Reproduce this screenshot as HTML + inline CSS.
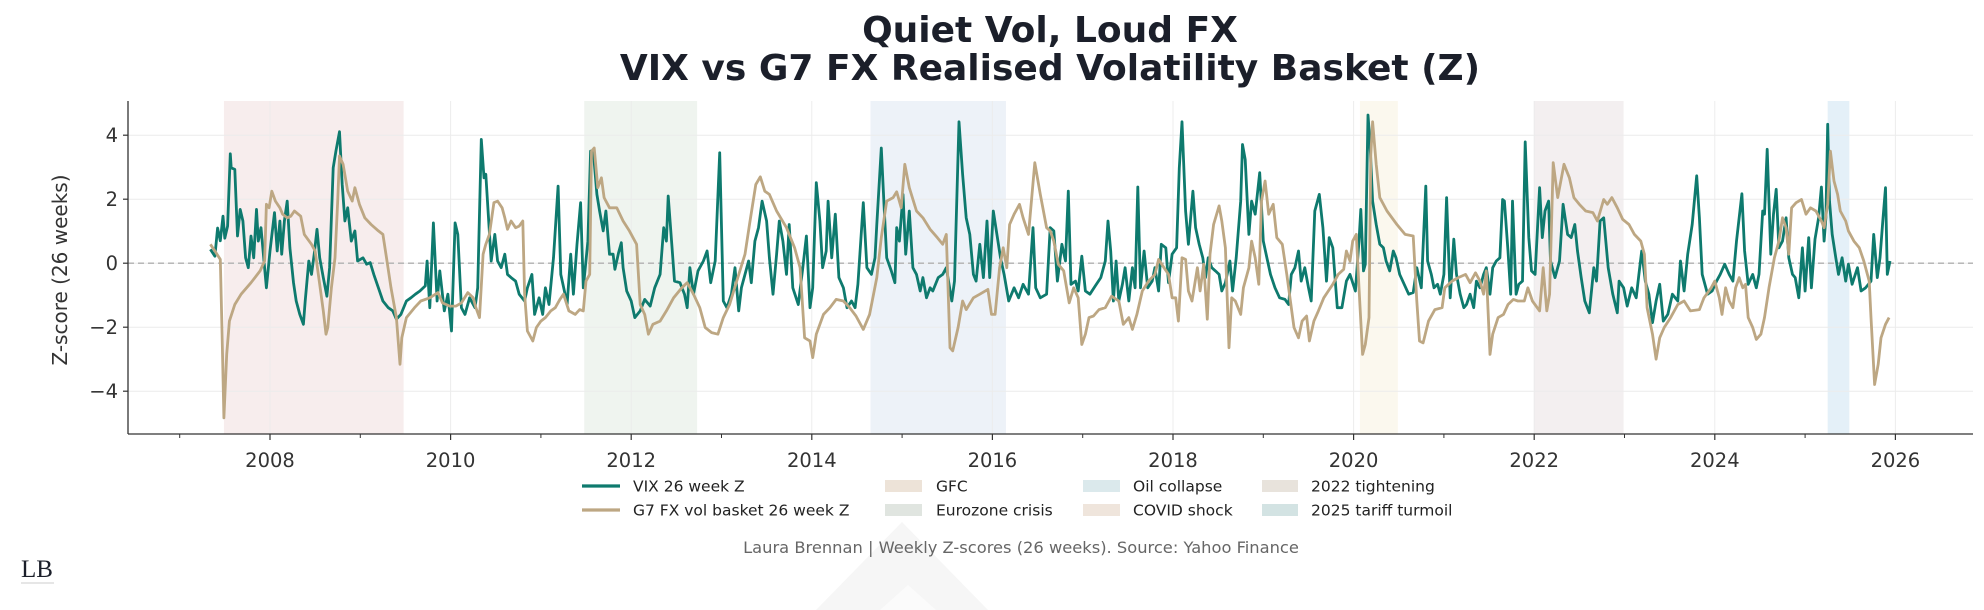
<!DOCTYPE html>
<html>
<head>
<meta charset="utf-8">
<style>
html,body{margin:0;padding:0;background:#fff;}
svg{display:block;font-family:"DejaVu Sans","Liberation Sans",sans-serif;}
</style>
</head>
<body>
<svg id="chart" width="1984" height="610" viewBox="0 0 1984 610" xmlns="http://www.w3.org/2000/svg">
  <rect width="1984" height="610" fill="#ffffff"/>
  <g>
    <polygon points="816,610 902,522 988,610" fill="#f6f6f6"/>
    <polygon points="880,610 908,585 936,610" fill="#fbfbfb"/>
  </g>
  <text x="1050" y="42" text-anchor="middle" font-size="36" font-weight="bold" fill="#1b1f2a">Quiet Vol, Loud FX</text>
  <text x="1050" y="80" text-anchor="middle" font-size="36" font-weight="bold" fill="#1b1f2a">VIX vs G7 FX Realised Volatility Basket (Z)</text>
  <g id="shades"></g>
  <g id="grid"></g>
  <line x1="128" x2="1973" y1="263.2" y2="263.2" stroke="#b0b0b0" stroke-width="1.3" stroke-dasharray="6,4"/>
  <g id="series"></g>
  <g id="axes">
    <line x1="128" x2="128" y1="101" y2="434" stroke="#333" stroke-width="1.3"/>
    <line x1="128" x2="1973" y1="434" y2="434" stroke="#333" stroke-width="1.3"/>
  </g>
  <text transform="translate(67,270) rotate(-90)" text-anchor="middle" font-size="20" fill="#333">Z-score (26 weeks)</text>
  <g id="legend" font-size="15.5" fill="#222">
    <g>
      <line x1="582" x2="620" y1="486" y2="486" stroke="#0e7a6e" stroke-width="3.2"/>
      <text x="633" y="491.5">VIX 26 week Z</text>
    </g>
    <g>
      <line x1="582" x2="620" y1="510" y2="510" stroke="#bda783" stroke-width="3.2"/>
      <text x="633" y="515.5">G7 FX vol basket 26 week Z</text>
    </g>
    <g>
      <rect x="885" y="480" width="37" height="12" fill="#ede3d8"/>
      <text x="936" y="491.5">GFC</text>
    </g>
    <g>
      <rect x="885" y="504" width="37" height="12" fill="#e0e5e0"/>
      <text x="936" y="515.5">Eurozone crisis</text>
    </g>
    <g>
      <rect x="1083" y="480" width="37" height="12" fill="#dbe9ec"/>
      <text x="1133" y="491.5">Oil collapse</text>
    </g>
    <g>
      <rect x="1083" y="504" width="37" height="12" fill="#efe5dc"/>
      <text x="1133" y="515.5">COVID shock</text>
    </g>
    <g>
      <rect x="1262" y="480" width="36" height="12" fill="#e8e3dc"/>
      <text x="1311" y="491.5">2022 tightening</text>
    </g>
    <g>
      <rect x="1262" y="504" width="36" height="12" fill="#d3e3e3"/>
      <text x="1311" y="515.5">2025 tariff turmoil</text>
    </g>
  </g>
  <text x="1021" y="553" text-anchor="middle" font-size="16.3" fill="#666">Laura Brennan | Weekly Z-scores (26 weeks). Source: Yahoo Finance</text>
  <g>
    <text x="21" y="577" font-family="'Liberation Serif',serif" font-size="25" fill="#1b1f2a">LB</text>
    <line x1="21" x2="54" y1="583" y2="583" stroke="#999" stroke-width="0.6"/>
  </g>
</svg>
<script>
const yTicks = [-4, -2, 0, 2, 4];
const xTickYears = [2008, 2010, 2012, 2014, 2016, 2018, 2020, 2022, 2024, 2026];
const xMinorYears = [2007, 2009, 2011, 2013, 2015, 2017, 2019, 2021, 2023, 2025];
const eventNames = ["GFC", "Eurozone crisis", "Oil collapse", "COVID shock", "2022 tightening", "2025 tariff turmoil"];
const eventStart = [2007.49, 2011.48, 2014.65, 2020.07, 2022.0, 2025.25];
const eventEnd = [2009.48, 2012.73, 2016.15, 2020.49, 2022.99, 2025.49];
const eventColors = ["#f7eded", "#eff4ef", "#edf2f8", "#fbf8ee", "#f3eff0", "#e4f0f8"];

const vixDates = [2007.34,2007.39,2007.42,2007.45,2007.48,2007.50,2007.53,2007.56,2007.57,2007.61,2007.64,2007.67,2007.70,2007.73,2007.76,2007.79,2007.82,2007.85,2007.87,2007.90,2007.93,2007.96,2008.00,2008.05,2008.08,2008.11,2008.13,2008.16,2008.19,2008.22,2008.26,2008.29,2008.33,2008.37,2008.39,2008.43,2008.46,2008.49,2008.52,2008.55,2008.59,2008.63,2008.66,2008.70,2008.73,2008.77,2008.80,2008.83,2008.86,2008.90,2008.94,2008.97,2009.03,2009.07,2009.11,2009.15,2009.20,2009.25,2009.31,2009.36,2009.40,2009.45,2009.51,2009.56,2009.61,2009.66,2009.72,2009.74,2009.77,2009.81,2009.85,2009.88,2009.93,2009.97,2010.01,2010.05,2010.08,2010.12,2010.16,2010.21,2010.27,2010.30,2010.34,2010.37,2010.39,2010.42,2010.45,2010.49,2010.52,2010.56,2010.60,2010.63,2010.67,2010.72,2010.76,2010.82,2010.85,2010.90,2010.93,2010.98,2011.02,2011.05,2011.09,2011.14,2011.19,2011.22,2011.26,2011.29,2011.33,2011.36,2011.40,2011.44,2011.47,2011.52,2011.55,
2011.58,2011.62,2011.65,2011.69,2011.72,2011.76,2011.80,2011.82,2011.86,2011.89,2011.91,2011.95,2012.00,2012.04,2012.10,2012.15,2012.21,2012.26,2012.32,2012.36,2012.39,2012.41,2012.45,2012.48,2012.54,2012.59,2012.62,2012.65,2012.69,2012.74,2012.80,2012.84,2012.88,2012.93,2012.98,2013.02,2013.06,2013.11,2013.15,2013.19,2013.22,2013.26,2013.30,2013.33,2013.37,2013.41,2013.45,2013.50,2013.53,2013.57,2013.61,2013.64,2013.68,2013.72,2013.75,2013.79,2013.85,2013.90,2013.94,2013.98,2014.01,2014.05,2014.09,2014.12,2014.16,2014.18,2014.22,2014.26,2014.30,2014.35,2014.39,2014.44,2014.48,2014.51,2014.57,2014.61,2014.66,2014.70,2014.72,2014.77,2014.80,2014.83,2014.88,2014.92,2014.94,2014.97,2015.01,2015.04,2015.08,2015.12,2015.16,2015.20,2015.23,2015.27,2015.31,2015.34,2015.40,2015.45,2015.49,2015.55,2015.58,2015.63,2015.67,2015.71,2015.75,2015.79,2015.82,2015.86,2015.90,2015.94,2015.97,2016.01,2016.05,2016.09,2016.13,2016.18,2016.24,2016.29,2016.34,2016.40,2016.45,2016.48,2016.53,2016.60,2016.64,
2016.68,2016.72,2016.77,2016.81,2016.84,2016.87,2016.92,2016.95,2016.99,2017.03,2017.08,2017.14,2017.20,2017.25,2017.28,2017.31,2017.34,2017.37,2017.40,2017.44,2017.47,2017.51,2017.55,2017.58,2017.61,2017.64,2017.68,2017.72,2017.77,2017.80,2017.84,2017.87,2017.92,2017.95,2017.99,2018.04,2018.07,2018.10,2018.14,2018.17,2018.22,2018.25,2018.29,2018.33,2018.36,2018.39,2018.43,2018.47,2018.51,2018.54,2018.58,2018.63,2018.66,2018.70,2018.75,2018.77,2018.80,2018.84,2018.87,2018.91,2018.96,2019.00,2019.04,2019.08,2019.13,2019.18,2019.24,2019.28,2019.31,2019.35,2019.39,2019.42,2019.46,2019.50,2019.53,2019.57,2019.62,2019.66,2019.70,2019.73,2019.77,2019.82,2019.87,2019.92,2019.96,2020.02,2020.06,2020.08,2020.11,2020.13,2020.16,2020.18,2020.21,2020.25,2020.29,2020.33,2020.36,2020.40,2020.44,2020.47,2020.51,2020.56,2020.61,2020.66,2020.70,2020.75,2020.80,2020.82,2020.86,2020.89,2020.93,2020.96,2021.00,2021.03,2021.07,2021.11,2021.14,2021.18,2021.22,2021.25,2021.29,2021.33,2021.36,2021.40,2021.44,2021.47,2021.51,2021.54,2021.58,2021.62,2021.65,2021.67,2021.71,2021.74,
2021.76,2021.80,2021.83,2021.87,2021.90,2021.94,2021.97,2022.01,2022.06,2022.09,2022.12,2022.16,2022.18,2022.23,2022.28,2022.32,2022.37,2022.41,2022.45,2022.48,2022.52,2022.56,2022.61,2022.66,2022.69,2022.73,2022.77,2022.82,2022.87,2022.92,2022.94,2022.99,2023.03,2023.08,2023.13,2023.16,2023.19,2023.23,2023.27,2023.31,2023.35,2023.39,2023.43,2023.48,2023.53,2023.59,2023.62,2023.66,2023.70,2023.75,2023.80,2023.83,2023.86,2023.92,2023.97,2024.02,2024.06,2024.11,2024.16,2024.20,2024.24,2024.30,2024.33,2024.37,2024.42,2024.46,2024.49,2024.53,2024.55,2024.58,2024.62,2024.65,2024.68,2024.71,2024.75,2024.79,2024.82,2024.86,2024.89,2024.93,2024.97,2025.00,2025.04,2025.07,2025.11,2025.15,2025.18,2025.21,2025.23,2025.25,2025.27,2025.30,2025.34,2025.37,2025.41,2025.45,2025.48,2025.52,2025.58,2025.62,2025.67,2025.73,2025.76,2025.80,2025.83,2025.86,2025.89,2025.91,2025.94];
const vixValues = [0.43,0.22,1.1,0.7,1.47,0.78,1.16,3.42,2.98,2.93,0.85,1.68,1.32,0.17,-0.14,0.85,0.17,1.68,0.69,1.11,0.17,-0.77,0.38,1.58,0.38,1.32,0.28,1.32,1.94,0.48,-0.61,-1.18,-1.6,-1.91,-1.18,0.07,-0.35,0.28,1.06,0.17,-0.45,-1.03,-0.14,2.98,3.5,4.11,2.46,1.32,1.73,0.69,1.01,0.07,0.17,-0.03,0.02,-0.35,-0.77,-1.18,-1.39,-1.49,-1.75,-1.6,-1.18,-1.08,-0.97,-0.87,-0.71,0.07,-1.39,1.26,-1.18,-0.24,-1.49,-0.97,-2.12,1.26,0.9,-1.39,-1.6,-1.08,-1.39,-0.77,3.87,2.67,2.78,1.42,0.07,0.9,0.07,-0.14,0.28,-0.35,-0.45,-0.56,-0.97,-1.18,-0.77,-0.35,-1.6,-1.08,-1.6,-0.77,-1.29,0.17,2.41,-0.35,-0.87,-1.29,0.28,-0.97,0.59,1.89,-0.77,0.69,3.5,
3.5,2.15,1.63,1.01,1.63,0.28,0.28,-0.19,0.33,0.64,-0.14,-0.87,-1.18,-1.7,-1.49,-1.13,-1.34,-0.77,-0.35,1.11,0.69,2.1,0.59,-0.56,-0.61,-0.97,-1.39,-0.14,-0.97,-0.24,0.07,0.38,-0.61,0.07,3.45,-1.18,-1.39,-0.97,-0.14,-1.49,-0.77,-0.35,0.07,-0.61,0.69,1.11,1.94,1.32,0.17,-0.97,0.28,1.32,0.69,-0.35,1.21,-0.77,-1.29,-0.14,0.85,-1.39,-0.77,2.52,1.32,-0.14,0.38,1.94,0.17,1.53,-0.45,-0.77,-1.39,-1.18,-1.39,-0.66,1.89,-0.14,-0.35,0.17,1.21,3.6,1.84,0.17,-0.24,-0.61,1.11,0.69,2.15,0.28,1.63,-0.14,-0.35,-0.87,-0.45,-1.08,-0.77,-0.87,-0.45,-0.35,-0.14,-1.18,-0.56,4.42,2.78,1.42,0.9,-0.35,-0.56,0.59,-0.45,1.32,-0.45,1.63,0.9,0.17,-0.35,-1.18,-0.77,-1.08,-0.66,-0.97,1.11,-0.77,-1.08,-0.97,1.11,
1.01,-0.56,0.59,0.07,2.25,-0.66,-0.56,-0.87,0.22,-0.87,-0.97,-0.71,-0.45,0.07,1.32,0.38,-1.18,0.07,-1.18,-0.66,-0.14,-1.18,-0.14,-0.77,2.38,-0.77,0.38,-0.77,-0.56,-0.14,-0.87,0.59,0.48,-0.61,0.28,0.48,2.98,4.42,1.63,0.59,2.25,1.11,0.59,0.17,-0.45,0.17,-0.14,-0.24,-0.35,-0.87,-0.61,0.07,-0.87,0.17,1.94,3.71,3.24,0.9,1.94,1.53,2.83,0.69,0.17,-0.35,-0.77,-1.08,-1.13,-1.29,-0.35,-0.14,0.38,-0.56,-0.14,-0.77,-1.18,1.63,2.15,1.11,-0.56,0.8,0.48,-1.39,-1.39,-0.56,-0.35,-0.87,0.69,1.68,-0.24,-0.03,4.63,3.82,1.94,1.21,0.59,0.48,0.07,-0.24,0.38,0.17,-0.35,-0.66,-0.97,-0.92,-0.14,-0.77,2.41,0.07,-0.35,-0.77,-0.66,-0.97,-0.35,2.05,-1.08,0.75,-0.35,-0.97,-1.39,-1.29,-0.97,-1.39,-0.56,-0.77,-0.35,-0.14,-0.97,-0.14,0.07,0.17,1.99,1.94,0.38,-0.97,
1.94,-0.97,-0.66,-0.56,3.79,0.8,-0.24,-0.35,2.36,0.8,1.63,1.94,0.07,-0.45,0.07,1.84,0.9,0.8,1.21,0.38,-0.45,-1.18,-1.55,-0.14,-0.56,1.32,1.42,-0.14,-0.97,-1.55,-0.56,-0.77,-1.34,-0.77,-1.08,-0.35,0.38,-0.56,-0.97,-1.86,-1.18,-0.66,-1.81,-1.6,-0.97,-1.18,0.07,-0.87,0.28,1.21,2.73,1.42,-0.35,-0.97,-0.87,-0.56,-0.35,-0.03,-0.35,-0.56,0.69,2.17,0.38,-0.66,-0.35,-0.77,-0.35,1.63,1.53,3.56,0.28,1.53,2.31,0.48,0.69,1.42,0.17,-0.35,-0.45,-1.08,0.48,-0.87,0.8,-0.77,0.75,1.42,2.38,0.69,1.42,4.34,1.94,0.9,0.17,-0.35,0.17,-0.56,-0.03,-0.66,-0.14,-0.87,-0.77,-0.56,0.9,-0.45,0.17,1.32,2.36,-0.35,0.07];

const fxDates = [2007.34,2007.39,2007.45,2007.47,2007.49,2007.52,2007.55,2007.61,2007.68,2007.79,2007.89,2007.94,2007.96,2007.99,2008.02,2008.06,2008.11,2008.14,2008.19,2008.23,2008.27,2008.34,2008.38,2008.46,2008.50,2008.55,2008.59,2008.62,2008.64,2008.68,2008.72,2008.75,2008.77,2008.81,2008.86,2008.91,2008.94,2008.99,2009.05,2009.12,2009.20,2009.25,2009.29,2009.34,2009.40,2009.44,2009.46,2009.51,2009.60,2009.67,2009.77,2009.86,2009.91,2009.99,2010.06,2010.12,2010.19,2010.25,2010.28,2010.32,2010.36,2010.39,2010.43,2010.48,2010.52,2010.57,2010.60,2010.63,2010.67,2010.72,2010.76,2010.80,2010.82,2010.85,2010.91,2010.95,2011.00,2011.05,2011.11,2011.16,2011.21,2011.25,2011.31,2011.38,2011.43,2011.47,2011.50,2011.54,2011.56,2011.59,
2011.63,2011.67,2011.70,2011.76,2011.84,2011.91,2011.98,2012.06,2012.10,2012.15,2012.19,2012.24,2012.32,2012.39,2012.47,2012.56,2012.62,2012.69,2012.76,2012.82,2012.89,2012.96,2013.02,2013.09,2013.18,2013.26,2013.31,2013.38,2013.43,2013.48,2013.53,2013.61,2013.72,2013.81,2013.87,2013.92,2013.98,2014.01,2014.05,2014.13,2014.20,2014.27,2014.35,2014.42,2014.49,2014.57,2014.64,2014.72,2014.77,2014.83,2014.90,2014.94,2014.99,2015.03,2015.08,2015.16,2015.23,2015.31,2015.39,2015.45,2015.49,2015.53,2015.56,2015.62,2015.67,2015.71,2015.79,2015.86,2015.95,2015.99,2016.03,2016.08,2016.12,2016.16,2016.19,2016.24,2016.30,2016.34,2016.40,2016.47,2016.53,2016.60,2016.64,
2016.68,2016.73,2016.79,2016.85,2016.90,2016.95,2016.99,2017.03,2017.07,2017.12,2017.18,2017.25,2017.32,2017.40,2017.45,2017.51,2017.55,2017.60,2017.66,2017.73,2017.80,2017.84,2017.90,2017.95,2017.99,2018.03,2018.06,2018.10,2018.14,2018.17,2018.21,2018.27,2018.30,2018.34,2018.38,2018.41,2018.45,2018.51,2018.54,2018.58,2018.60,2018.62,2018.65,2018.69,2018.75,2018.78,2018.84,2018.87,2018.91,2018.95,2018.98,2019.02,2019.06,2019.11,2019.15,2019.21,2019.26,2019.30,2019.34,2019.39,2019.43,2019.48,2019.51,2019.56,2019.61,2019.67,2019.72,2019.77,2019.83,2019.89,2019.92,2019.96,2019.99,2020.03,2020.06,2020.10,2020.13,2020.17,2020.19,2020.21,2020.25,2020.29,2020.37,2020.48,2020.57,2020.66,2020.70,2020.73,2020.77,2020.83,2020.90,2020.98,2021.01,2021.09,2021.16,2021.24,2021.29,2021.35,2021.40,2021.44,2021.47,2021.51,2021.54,2021.60,2021.66,2021.71,2021.77,
2021.82,2021.89,2021.93,2021.98,2022.06,2022.10,2022.14,2022.17,2022.21,2022.26,2022.33,2022.39,2022.44,2022.50,2022.57,2022.65,2022.70,2022.77,2022.81,2022.86,2022.92,2022.98,2023.05,2023.11,2023.18,2023.22,2023.25,2023.31,2023.35,2023.39,2023.44,2023.51,2023.59,2023.66,2023.73,2023.83,2023.88,2023.96,2024.00,2024.05,2024.08,2024.12,2024.16,2024.20,2024.23,2024.27,2024.31,2024.34,2024.37,2024.42,2024.46,2024.51,2024.55,2024.60,2024.66,2024.71,2024.75,2024.79,2024.82,2024.85,2024.90,2024.96,2025.01,2025.06,2025.12,2025.18,2025.21,2025.25,2025.28,2025.32,2025.36,2025.39,2025.45,2025.48,2025.54,2025.60,2025.65,2025.71,2025.73,2025.77,2025.81,2025.84,2025.89,2025.93];
const fxValues = [0.59,0.38,0.12,-2.22,-4.83,-2.85,-1.81,-1.29,-0.97,-0.61,-0.24,0.07,1.84,1.73,2.25,1.94,1.73,1.53,1.42,1.47,1.63,1.47,0.9,0.59,0.38,-0.66,-1.49,-2.22,-2.01,-0.77,0.17,1.94,3.35,3.09,2.25,1.94,2.36,1.84,1.42,1.21,1.01,0.9,0.17,-0.77,-1.7,-3.16,-2.33,-1.7,-1.39,-1.18,-1.08,-0.92,-1.24,-1.34,-1.34,-1.24,-0.92,-1.08,-1.39,-1.7,0.28,0.59,0.9,1.89,1.94,1.73,1.42,1.06,1.32,1.11,1.16,1.32,-0.97,-2.12,-2.43,-2.01,-1.81,-1.7,-1.49,-1.39,-1.13,-0.97,-1.49,-1.6,-1.45,-1.49,-0.56,-0.35,3.5,3.6,
2.36,2.67,2.05,1.73,1.73,1.32,1.01,0.59,-1.29,-1.6,-2.22,-1.91,-1.81,-1.49,-1.08,-0.77,-0.61,-0.97,-1.39,-2.01,-2.17,-2.22,-1.7,-1.29,-0.45,0.28,1.21,2.46,2.7,2.25,2.15,1.63,1.11,0.48,-0.14,-2.33,-2.43,-2.95,-2.22,-1.6,-1.39,-1.13,-1.18,-1.39,-1.65,-2.07,-1.6,-0.45,0.8,1.94,2.05,2.23,1.73,3.09,2.36,1.63,1.42,1.06,0.8,0.59,0.9,-2.64,-2.74,-2.01,-1.18,-1.45,-1.08,-0.97,-0.82,-1.6,-1.6,-0.14,0.48,-0.14,1.21,1.53,1.84,1.42,0.9,3.14,2.15,1.11,1.01,
0.69,-0.03,-0.24,-1.24,-0.77,-1.08,-2.54,-2.22,-1.7,-1.65,-1.45,-1.39,-1.03,-1.18,-1.91,-1.7,-2.07,-1.6,-0.87,-0.56,-0.35,0.12,-0.14,-0.35,-1.08,-1.08,-1.81,0.17,0.12,-0.87,-1.18,-0.14,-0.87,-0.03,-1.75,0.28,1.21,1.79,1.32,0.48,-1.08,-2.64,-1.08,-1.18,-1.6,-0.77,-0.14,0.69,0.17,-0.66,1.94,2.57,1.53,1.84,0.8,0.59,-0.35,-1.18,-2.01,-2.33,-1.81,-1.65,-2.43,-1.81,-1.49,-1.08,-0.87,-0.66,-0.35,-0.19,0.38,0.07,0.69,0.9,-0.77,-2.85,-2.54,-1.7,3.4,4.42,3.09,2.05,1.63,1.21,0.9,0.85,-1.18,-2.43,-2.49,-1.81,-1.45,-1.39,-0.77,-0.56,-0.45,-0.35,-0.61,-0.3,-0.56,-0.97,-0.24,-2.85,-2.22,-1.7,-1.6,-1.29,-1.13,
-1.18,-1.18,-0.77,-1.18,-1.49,-0.14,-1.49,-0.97,3.14,2.05,3.09,2.67,2.05,1.84,1.63,1.58,1.32,1.99,1.84,2.05,1.73,1.37,1.21,0.9,0.69,0.28,-1.39,-2.22,-3.0,-2.33,-2.01,-1.7,-1.29,-1.18,-1.49,-1.45,-1.08,-0.77,-0.56,-1.08,-1.6,-0.77,-1.18,-1.39,-0.77,-0.45,-0.77,-0.66,-1.7,-2.01,-2.38,-2.22,-1.7,-0.77,0.17,0.69,1.42,1.11,0.28,1.73,1.89,1.99,1.53,1.73,1.63,1.32,1.11,1.84,3.5,2.57,2.15,1.63,1.32,1.01,0.69,0.48,0.07,-0.56,-1.7,-3.79,-3.16,-2.33,-1.91,-1.7];

const X0 = 2008, PX0 = 270, PXY = 90.3;
function xScale(yr){ return PX0 + (yr - X0) * PXY; }
function yScale(v){ return 263.2 - v * 32; }
const NS = "http://www.w3.org/2000/svg";
function mk(tag, attrs, parent){
  const e = document.createElementNS(NS, tag);
  for (const k in attrs) e.setAttribute(k, attrs[k]);
  parent.appendChild(e);
  return e;
}
const shades = document.getElementById('shades');
eventStart.forEach((s, i) => {
  const r = mk('rect', {x: xScale(s), y: 101, width: xScale(eventEnd[i]) - xScale(s), height: 333, fill: eventColors[i]}, shades);
  
  
});
const grid = document.getElementById('grid');
const axes = document.getElementById('axes');
yTicks.forEach(t => {
  const y = yScale(t);
  const gl = mk('line', {x1: 128, x2: 1973, y1: y, y2: y, stroke: '#ececec', 'stroke-width': 1}, grid);
  
  
  const tk = mk('line', {x1: 123, x2: 128, y1: y, y2: y, stroke: '#333', 'stroke-width': 1.2}, axes);
  
  
  const lb = mk('text', {x: 118, y: y + 7, 'text-anchor': 'end', 'font-size': 19.5, fill: '#333'}, axes);
  lb.textContent = t < 0 ? '\u2212' + Math.abs(t) : String(t);
  
  
});
xTickYears.forEach(yr => {
  const x = xScale(yr);
  const gl = mk('line', {x1: x, x2: x, y1: 101, y2: 434, stroke: '#ececec', 'stroke-width': 1}, grid);
  
  
  const tk = mk('line', {x1: x, x2: x, y1: 434, y2: 440, stroke: '#333', 'stroke-width': 1.2}, axes);
  
  
  const lb = mk('text', {x: x, y: 467, 'text-anchor': 'middle', 'font-size': 19.5, fill: '#333'}, axes);
  lb.textContent = String(yr);
  
  
});
xMinorYears.forEach(yr => {
  const x = xScale(yr);
  const tk = mk('line', {x1: x, x2: x, y1: 434, y2: 438, stroke: '#333', 'stroke-width': 1}, axes);
  
  
});
function pathFor(dates, vals){
  return dates.map((d, i) => (i ? 'L' : 'M') + xScale(d).toFixed(1) + ',' + yScale(vals[i]).toFixed(1)).join('');
}
const series = document.getElementById('series');
const pv = mk('path', {d: pathFor(vixDates, vixValues), fill: 'none', stroke: '#0e7a6e', 'stroke-width': 2.8, 'stroke-linejoin': 'round'}, series);


const pf = mk('path', {d: pathFor(fxDates, fxValues), fill: 'none', stroke: '#bda783', 'stroke-width': 2.8, 'stroke-linejoin': 'round'}, series);


</script>
</body>
</html>
